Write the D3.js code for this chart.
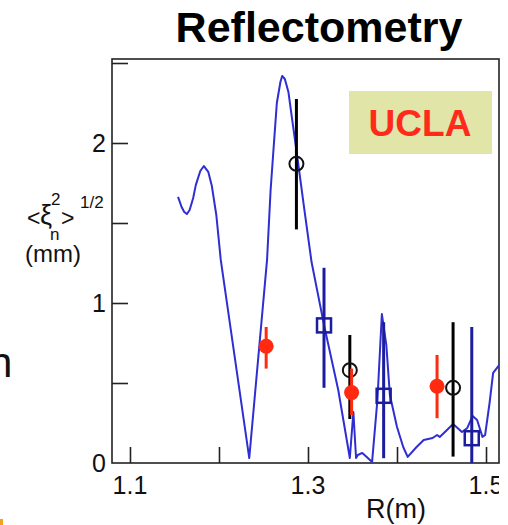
<!DOCTYPE html>
<html>
<head>
<meta charset="utf-8">
<script src="https://cdn.jsdelivr.net/npm/d3@7"></script>
<style>
  body { margin: 0; background: #fff; }
  svg { display: block; font-family: "Liberation Sans", Arial, Helvetica, sans-serif; }
</style>
</head>
<body>
<svg id="chart" width="508" height="525"></svg>
<script>
// Reflectometry fluctuation amplitude vs major radius.

// simulated profile (blue line)
const curveR = [1.154, 1.158, 1.161, 1.164, 1.167, 1.171, 1.174, 1.179, 1.183, 1.188,
  1.192, 1.197, 1.202, 1.234, 1.254, 1.258, 1.262, 1.265, 1.269, 1.271,
  1.274, 1.278, 1.282, 1.288, 1.296, 1.304, 1.318, 1.334, 1.347, 1.351,
  1.354, 1.356, 1.361, 1.366, 1.372, 1.378, 1.383, 1.388, 1.392, 1.400,
  1.407, 1.412, 1.422, 1.430, 1.440, 1.445, 1.448, 1.455, 1.463, 1.473,
  1.479, 1.485, 1.490, 1.496, 1.499, 1.504, 1.508, 1.515];
const curveV = [1.663, 1.600, 1.569, 1.556, 1.581, 1.656, 1.738, 1.825, 1.856, 1.819,
  1.731, 1.550, 1.269, 0.031, 1.269, 1.706, 2.019, 2.250, 2.381, 2.419,
  2.400, 2.319, 2.156, 1.913, 1.581, 1.256, 0.863, 0.456, 0.031, 0.319,
  0.031, 0.050, 0.063, 0.038, 0.006, 0.394, 0.931, 0.738, 0.425, 0.225,
  0.100, 0.038, 0.100, 0.144, 0.156, 0.175, 0.163, 0.200, 0.244, 0.194,
  0.219, 0.294, 0.269, 0.163, 0.175, 0.375, 0.563, 0.613];

// measurements: open circles (black)
const circR = [1.287, 1.347, 1.463];
const circV = [1.87, 0.58, 0.47];
const circLo = [1.46, 0.275, 0.04];
const circHi = [2.275, 0.80, 0.88];

// measurements: filled dots (red)
const dotR = [1.253, 1.349, 1.445];
const dotV = [0.73, 0.44, 0.48];
const dotLo = [0.59, 0.30, 0.28];
const dotHi = [0.85, 0.59, 0.675];

// measurements: open squares (navy)
const sqR = [1.318, 1.385, 1.484];
const sqV = [0.86, 0.42, 0.155];
const sqLo = [0.47, 0.03, 0.0];
const sqHi = [1.22, 0.88, 0.85];

const xTicks = [1.1, 1.2, 1.3, 1.4, 1.5];
const xLabels = [1.1, 1.3, 1.5];
const yTicks = [0.5, 1, 1.5, 2, 2.5];
const yLabels = [0, 1, 2];

const svg = d3.select('#chart');
const pLeft = 112, pTop = 59, pRight = 499, pBottom = 463;

const x = d3.scaleLinear().domain([1.0798, 1.5146]).range([pLeft, pRight]);
const y = d3.scaleLinear().domain([0, 2.525]).range([pBottom, pTop]);

svg.append('defs').html(
  `<clipPath id="plot"><rect x="${pLeft}" y="${pTop}" width="${pRight - pLeft}" height="${pBottom - pTop}"/></clipPath>
   <clipPath id="page"><rect x="0" y="0" width="499" height="525"/></clipPath>`);

const tickLen = 16;

// frame
svg.append('rect')
  .attr('x', pLeft).attr('y', pTop)
  .attr('width', pRight - pLeft).attr('height', pBottom - pTop)
  .attr('fill', 'none').attr('stroke', '#222').attr('stroke-width', 1.6);

// inward ticks, built from the scales
const xAxis = d3.axisTop(x).tickValues(xTicks).tickSize(tickLen).tickFormat('');
svg.append('g').attr('transform', `translate(0,${pBottom})`).call(xAxis)
  .call(g => g.select('.domain').remove())
  .selectAll('line').attr('stroke', '#222').attr('stroke-width', 1.6);

const yAxis = d3.axisRight(y).tickValues(yTicks).tickSize(tickLen).tickFormat('');
svg.append('g').attr('transform', `translate(${pLeft},0)`).call(yAxis)
  .call(g => g.select('.domain').remove())
  .selectAll('line').attr('stroke', '#222').attr('stroke-width', 1.6);

// tick labels
const labels = svg.append('g').attr('clip-path', 'url(#page)')
  .attr('font-size', 25).attr('fill', '#111');
labels.selectAll('text.xl').data(xLabels).join('text')
  .attr('class', 'xl')
  .attr('x', d => x(d)).attr('y', 494)
  .attr('text-anchor', 'middle')
  .text(d => d3.format('.1f')(d));
labels.selectAll('text.yl').data(yLabels).join('text')
  .attr('class', 'yl')
  .attr('x', 106).attr('y', d => y(d) + 9)
  .attr('text-anchor', 'end')
  .text(d => d);

// axis titles
svg.append('text').attr('x', 396).attr('y', 518)
  .attr('text-anchor', 'middle').attr('font-size', 27).attr('fill', '#111')
  .text('R(m)');

const yl = svg.append('g').attr('fill', '#111');
yl.append('text').attr('x', 27).attr('y', 226).attr('font-size', 23).text('<');
yl.append('text').attr('x', 40).attr('y', 224).attr('font-size', 27).text('ξ');
yl.append('text').attr('x', 51).attr('y', 205).attr('font-size', 17).text('2');
yl.append('text').attr('x', 61).attr('y', 226).attr('font-size', 23).text('>');
yl.append('text').attr('x', 50).attr('y', 240).attr('font-size', 17).text('n');
yl.append('text').attr('x', 80).attr('y', 208).attr('font-size', 17).text('1/2');
yl.append('text').attr('x', 53).attr('y', 262).attr('text-anchor', 'middle')
  .attr('font-size', 24).text('(mm)');

// title
svg.append('text').attr('x', 319).attr('y', 42)
  .attr('text-anchor', 'middle').attr('font-size', 43).attr('font-weight', 'bold')
  .attr('fill', '#000').text('Reflectometry');

// UCLA badge
svg.append('rect').attr('x', 349).attr('y', 91).attr('width', 143).attr('height', 63)
  .attr('fill', '#e1e5a8');
svg.append('text').attr('x', 420).attr('y', 136)
  .attr('text-anchor', 'middle').attr('font-size', 37).attr('font-weight', 'bold')
  .attr('fill', '#ff2a1a').text('UCLA');

// leftovers from neighbouring panel
svg.append('text').attr('x', -11).attr('y', 377).attr('font-size', 42)
  .attr('fill', '#111').text('n');
svg.append('rect').attr('x', 0).attr('y', 519).attr('width', 3).attr('height', 6)
  .attr('fill', '#f7a21e');

const plot = svg.append('g').attr('clip-path', 'url(#plot)');

// profile line
const line = d3.line().x(d => x(d[0])).y(d => y(d[1]));
plot.append('path')
  .datum(d3.zip(curveR, curveV))
  .attr('d', line)
  .attr('fill', 'none').attr('stroke', '#2e2ed2').attr('stroke-width', 2)
  .attr('stroke-linejoin', 'round');

function errBars(rs, lo, hi, color, w) {
  plot.append('g').selectAll('line').data(d3.range(rs.length)).join('line')
    .attr('x1', i => x(rs[i])).attr('x2', i => x(rs[i]))
    .attr('y1', i => y(lo[i])).attr('y2', i => y(hi[i]))
    .attr('stroke', color).attr('stroke-width', w);
}

// black circles
errBars(circR, circLo, circHi, '#000', 3);
plot.append('g').selectAll('circle').data(d3.range(circR.length)).join('circle')
  .attr('cx', i => x(circR[i])).attr('cy', i => y(circV[i])).attr('r', 7)
  .attr('fill', 'none').attr('stroke', '#111').attr('stroke-width', 2);

// red dots
errBars(dotR, dotLo, dotHi, '#ff2a10', 3);
plot.append('g').selectAll('circle').data(d3.range(dotR.length)).join('circle')
  .attr('cx', i => x(dotR[i])).attr('cy', i => y(dotV[i])).attr('r', 7.5)
  .attr('fill', '#ff2a10');

// navy squares
errBars(sqR, sqLo, sqHi, '#1c1c9e', 3);
const s = 14;
plot.append('g').selectAll('rect').data(d3.range(sqR.length)).join('rect')
  .attr('x', i => x(sqR[i]) - s / 2).attr('y', i => y(sqV[i]) - s / 2)
  .attr('width', s).attr('height', s)
  .attr('fill', 'none').attr('stroke', '#1c1c9e').attr('stroke-width', 2.5);
</script>
</body>
</html>
